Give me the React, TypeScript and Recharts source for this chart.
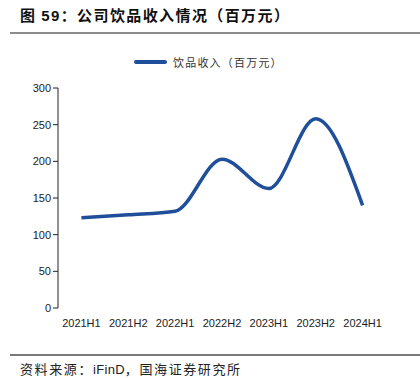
import { LineChart, Line, XAxis, YAxis } from "recharts";

const periods = ["2021H1", "2021H2", "2022H1", "2022H2", "2023H1", "2023H2", "2024H1"];
const beverageRevenue = [123, 127, 132, 203, 163, 258, 140];
const yTicks = [0, 50, 100, 150, 200, 250, 300];
const bandEdges = [0, 1, 2, 3, 4, 5, 6, 7];

const data = periods.map((p, i) => ({ period: p, revenue: beverageRevenue[i] }));

const LINE_COLOR = "#1f4e9a";
const SANS = "'Liberation Sans', Arial, sans-serif";
const CJK = "'Noto Sans CJK SC', sans-serif";

const App = () => {
  return (
    <div
      style={{
        position: "absolute",
        left: 0,
        top: 0,
        width: 420,
        height: 378,
        background: "#fff",
        fontFamily: CJK,
      }}
    >
      <div
        style={{
          position: "absolute",
          left: 20,
          top: 4,
          fontSize: 15,
          fontWeight: 700,
          letterSpacing: 1.4,
          color: "#111",
          whiteSpace: "nowrap",
        }}
      >
        图 <span style={{ fontFamily: SANS }}>59</span>：公司饮品收入情况（百万元）
      </div>
      <div style={{ position: "absolute", left: 10, right: 0, top: 32, height: 2, background: "#8c8c8c" }} />

      <div style={{ position: "absolute", left: 134, top: 54, display: "flex", alignItems: "center" }}>
        <span style={{ display: "inline-block", width: 33, height: 4, borderRadius: 2, background: LINE_COLOR }} />
        <span style={{ marginLeft: 6, fontSize: 11, letterSpacing: 1.2, color: "#333" }}>饮品收入（百万元）</span>
      </div>

      <LineChart
        width={420}
        height={340}
        data={data}
        margin={{ top: 88, right: 34, bottom: 0, left: 0 }}
      >
        <XAxis
          xAxisId="edges"
          type="number"
          domain={[0, 7]}
          ticks={bandEdges}
          tick={false}
          height={0}
          tickSize={5}
          axisLine={{ stroke: "#222" }}
          tickLine={{ stroke: "#222" }}
          allowDataOverflow
        />
        <XAxis
          xAxisId="cat"
          dataKey="period"
          scale="band"
          height={32}
          axisLine={false}
          tickLine={false}
          tickSize={5}
          tickMargin={6}
          interval={0}
          tick={{ fontSize: 11, fill: "#222", fontFamily: SANS }}
        />
        <YAxis
          width={58}
          domain={[0, 300]}
          ticks={yTicks}
          tickSize={5}
          tickMargin={2}
          axisLine={{ stroke: "#222" }}
          tickLine={{ stroke: "#222" }}
          tick={{ fontSize: 11, fill: "#222", fontFamily: SANS }}
        />
        <Line
          xAxisId="cat"
          type="monotone"
          dataKey="revenue"
          stroke={LINE_COLOR}
          strokeWidth={3.5}
          dot={false}
          isAnimationActive={false}
        />
      </LineChart>

      <div style={{ position: "absolute", left: 10, right: 0, top: 354, height: 1.5, background: "#7a7a7a" }} />
      <div
        style={{
          position: "absolute",
          left: 20,
          top: 359,
          fontSize: 13,
          letterSpacing: 1.6,
          color: "#222",
          whiteSpace: "nowrap",
        }}
      >
        资料来源：<span style={{ fontFamily: SANS, letterSpacing: 0.3 }}>iFinD</span>，国海证券研究所
      </div>
    </div>
  );
};

export default App;
